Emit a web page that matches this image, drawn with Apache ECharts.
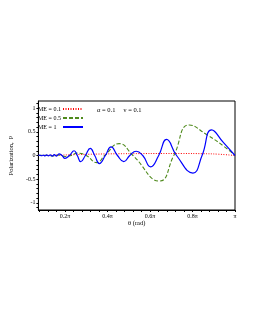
<!DOCTYPE html>
<html><head><meta charset="utf-8">
<script src="https://cdn.jsdelivr.net/npm/echarts@6/dist/echarts.min.js"></script>
<style>html,body{margin:0;padding:0;background:#fff}#c{width:255px;height:330px}</style>
</head><body><div id="c"></div>
<script>
// theta values are in units of pi
const seriesNames = ['ME = 0.1', 'ME = 0.5', 'ME = 1'];
const thetaRed = [0.075, 0.15, 0.25, 0.35, 0.45, 0.55, 0.65, 0.75, 0.85, 0.92, 1.0];
const redVals  = [0, 0.005, 0.018, 0.03, 0.037, 0.04, 0.042, 0.042, 0.038, 0.028, 0];
const thetaGreen = [0.075, 0.11, 0.14, 0.17, 0.2, 0.228, 0.258, 0.3, 0.35, 0.387, 0.455, 0.52, 0.645, 0.712, 0.785, 0.87, 0.946, 1.0];
const greenVals  = [0, 0.005, -0.008, 0.012, -0.02, 0, 0.05, 0, -0.15, 0, 0.25, 0, -0.54, 0, 0.645, 0.43, 0.2, 0];
const thetaBlue = [0.075, 0.082, 0.09, 0.098, 0.106, 0.114, 0.122, 0.131, 0.14, 0.15, 0.16, 0.172, 0.186, 0.2, 0.221, 0.243, 0.258, 0.274, 0.296, 0.319, 0.34, 0.362, 0.39, 0.417, 0.447, 0.477, 0.505, 0.535, 0.566, 0.603, 0.641, 0.678, 0.725, 0.802, 0.845, 0.89, 0.946, 1.0];
const blueVals  = [0, 0.008, -0.005, 0.01, -0.008, 0.012, -0.01, 0.015, -0.012, 0.02, -0.015, 0.035, 0, -0.06, 0, 0.1, 0, -0.13, 0, 0.15, 0, -0.17, 0, 0.18, 0, -0.13, 0, 0.09, 0, -0.24, 0, 0.34, 0, -0.37, 0, 0.54, 0.27, 0];
const xLabelTicks = [0.2, 0.4, 0.6, 0.8, 1.0];
const xLabelText = ['0.2π', '0.4π', '0.6π', '0.8π', 'π'];
const yLabelTicks = [-1, -0.5, 0, 0.5, 1];
const yLabelText = ['-1', '-0.5', '0', '0.5', '1'];

const xTicks = []; for (let k = 2; k <= 25; k++) xTicks.push(k * 4 / 100);
const yTicks = []; for (let k = -11; k <= 11; k++) yTicks.push(k / 10);
const zip = (a, b) => a.map((v, i) => [v, b[i]]);
const FONT = 'Liberation Serif';

const chart = echarts.init(document.getElementById('c'), null, {renderer: 'canvas'});
chart.setOption({
  animation: false,
  backgroundColor: '#fff',
  grid: {left: 32, right: 20, top: 101, bottom: 120, show: true, borderColor: '#000', borderWidth: 1},
  title: {
    text: 'α = 0.1     ν = 0.1', left: 97, top: 106.5,
    textStyle: {fontFamily: FONT, fontSize: 6.5, fontWeight: 'normal', color: '#000'}, padding: 0
  },
  legend: {
    orient: 'vertical', left: 38, top: 106, align: 'right', padding: 0,
    itemWidth: 20, itemHeight: 6, itemGap: 3,
    data: seriesNames,
    itemStyle: {opacity: 0, borderWidth: 0},
    formatter: n => '{a|' + n + '}',
    textStyle: {fontFamily: FONT, fontSize: 6, color: '#000', rich: {a: {width: 20, align: 'left', fontFamily: FONT, fontSize: 6, lineHeight: 7}}}
  },
  xAxis: {
    type: 'value', min: 0.075, max: 1.0,
    name: 'θ (rad)', nameLocation: 'middle', nameGap: 9,
    nameTextStyle: {fontFamily: FONT, fontSize: 6.5, color: '#000'},
    axisLine: {show: true, onZero: false, lineStyle: {color: '#000', width: 1}},
    axisTick: {show: true, customValues: xTicks, length: 2, lineStyle: {color: '#000'}},
    axisLabel: {customValues: xLabelTicks, margin: 3, fontFamily: FONT, fontSize: 6, color: '#000',
      formatter: v => xLabelText[xLabelTicks.findIndex(t => Math.abs(t - v) < 1e-6)]},
    splitLine: {show: false}
  },
  yAxis: {
    type: 'value', min: -1.15, max: 1.15,
    name: 'Polarization,  P', nameLocation: 'middle', nameGap: 10, nameRotate: 90,
    nameTextStyle: {fontFamily: FONT, fontSize: 6.5, color: '#000'},
    axisLine: {show: true, onZero: false, lineStyle: {color: '#000', width: 1}},
    axisTick: {show: true, customValues: yTicks, length: 2, lineStyle: {color: '#000'}},
    axisLabel: {customValues: yLabelTicks, margin: 3, fontFamily: FONT, fontSize: 6, color: '#000',
      formatter: v => yLabelText[yLabelTicks.findIndex(t => Math.abs(t - v) < 1e-6)]},
    splitLine: {show: false}
  },
  series: [
    {name: seriesNames[0], type: 'line', data: zip(thetaRed, redVals), smooth: 0.5, symbol: 'none',
      lineStyle: {color: '#ff0000', width: 1, type: [1, 1.5]}, itemStyle: {color: '#ff0000'}, z: 2},
    {name: seriesNames[1], type: 'line', data: zip(thetaGreen, greenVals), smooth: 0.5, symbol: 'none',
      lineStyle: {color: '#4f8a1c', width: 1.1, type: [4, 2]}, itemStyle: {color: '#4f8a1c'}, z: 3},
    {name: seriesNames[2], type: 'line', data: zip(thetaBlue, blueVals), smooth: 0.5, symbol: 'none',
      lineStyle: {color: '#0000ff', width: 1.2}, itemStyle: {color: '#0000ff'}, z: 4}
  ]
});
</script></body></html>
